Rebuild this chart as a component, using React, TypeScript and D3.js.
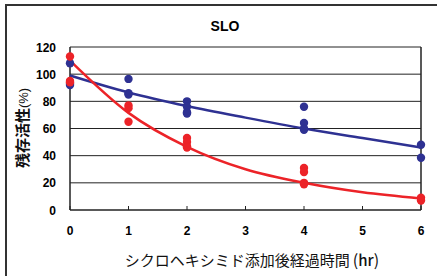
import * as d3 from 'd3'

// time points (hr)
const xTicks = [0, 1, 2, 3, 4, 5, 6]
const yTicks = [0, 20, 40, 60, 80, 100, 120]

// measured points
const blueTimes = [0, 0, 0, 1, 1, 1, 2, 2, 2, 2, 4, 4, 4, 4, 6, 6]
const blueValues = [108, 93, 92, 96.5, 86, 85, 80, 76, 72, 71, 76, 64, 60, 59, 48, 38.5]
const redTimes = [0, 0, 0, 1, 1, 1, 2, 2, 2, 2, 4, 4, 4, 4, 6, 6]
const redValues = [113, 95, 94, 77, 75, 65, 53, 50, 47, 46, 31, 28, 20, 19, 9, 7]

// fitted trend curves
const curveTimes = [0, 1, 2, 3, 4, 5, 6]
const blueCurve = [99, 86.5, 76.5, 68, 60, 53, 46]
const redCurve = [110, 71.5, 46.5, 30, 20, 13, 8.5]

const BLUE = '#2e3192'
const RED = '#ec2328'

export default function App() {
  const left = 70
  const right = 421
  const top = 47
  const bottom = 210

  const x = d3.scaleLinear().domain([0, 6]).range([left, right])
  const y = d3.scaleLinear().domain([0, 120]).range([bottom, top])

  const line = d3
    .line<number>()
    .x((_, i) => x(curveTimes[i]))
    .y((d) => y(d))
    .curve(d3.curveMonotoneX)

  const latin = 'Liberation Sans, Arial, sans-serif'
  const cjk = '"Noto Sans CJK JP", sans-serif'

  return (
    <svg
      width={437}
      height={276}
      style={{ position: 'absolute', left: 0, top: 0, background: '#fff' }}
    >
      <rect x={6} y={5} width={440} height={280} fill="#fff" stroke="#333" strokeWidth={2} />
      <text x={225} y={31} textAnchor="middle" fontFamily={latin} fontWeight="bold" fontSize={14}>
        SLO
      </text>

      {yTicks.map((t) => (
        <g key={t}>
          {t > 0 && (
            <line x1={left} x2={right} y1={y(t)} y2={y(t)} stroke="#222" strokeWidth={1} />
          )}
          <text
            x={56}
            y={y(t) + 4.5}
            textAnchor="end"
            fontFamily={latin}
            fontWeight="bold"
            fontSize={12}
          >
            {t}
          </text>
        </g>
      ))}

      {xTicks.map((t) => (
        <g key={t}>
          <line x1={x(t)} x2={x(t)} y1={bottom} y2={bottom - 4} stroke="#222" strokeWidth={1} />
          <text
            x={x(t)}
            y={235}
            textAnchor="middle"
            fontFamily={latin}
            fontWeight="bold"
            fontSize={12}
          >
            {t}
          </text>
        </g>
      ))}

      <line x1={left} x2={left} y1={top} y2={bottom} stroke="#222" strokeWidth={1.5} />
      <line x1={right} x2={right} y1={top} y2={bottom} stroke="#222" strokeWidth={1.5} />
      <line x1={left} x2={right} y1={bottom} y2={bottom} stroke="#222" strokeWidth={1.5} />

      <path d={line(blueCurve) ?? ''} fill="none" stroke={BLUE} strokeWidth={2.5} />
      <path d={line(redCurve) ?? ''} fill="none" stroke={RED} strokeWidth={2.5} />

      {blueValues.map((v, i) => (
        <circle key={'b' + i} cx={x(blueTimes[i])} cy={y(v)} r={4.2} fill={BLUE} />
      ))}
      {redValues.map((v, i) => (
        <circle key={'r' + i} cx={x(redTimes[i])} cy={y(v)} r={4.2} fill={RED} />
      ))}

      <text
        x={252}
        y={266}
        textAnchor="middle"
        fontFamily={cjk}
        fontSize={15}
        fill="#111"
      >
        シクロヘキシミド添加後経過時間<tspan dx={3} fontSize={16}>(</tspan>
        <tspan fontWeight={500}>hr</tspan>
        <tspan fontSize={16}>)</tspan>
      </text>
      <text
        transform="translate(28,128) rotate(-90)"
        textAnchor="middle"
        fontFamily={cjk}
        fontWeight="bold"
        fontSize={15}
        fill="#111"
      >
        残存活性<tspan fontSize={13} fontWeight="normal" fontFamily={latin}>(%)</tspan>
      </text>
    </svg>
  )
}
